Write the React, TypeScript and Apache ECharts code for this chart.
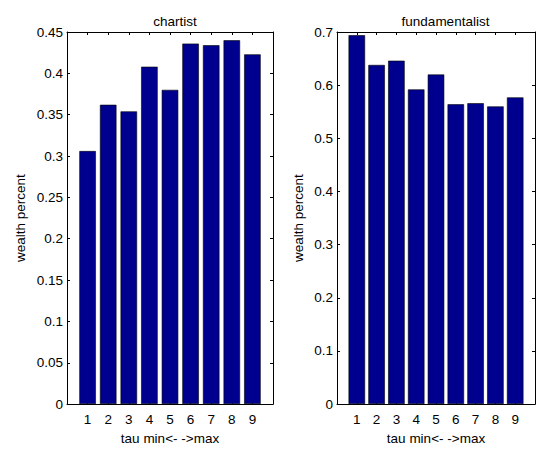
import React, { useEffect, useRef } from "react";
import * as echarts from "echarts";

const taus = [1, 2, 3, 4, 5, 6, 7, 8, 9];
const chartist = [0.306, 0.362, 0.354, 0.408, 0.38, 0.436, 0.434, 0.44, 0.423];
const fundamentalist = [0.694, 0.638, 0.646, 0.592, 0.62, 0.564, 0.566, 0.56, 0.577];
const titles = ["chartist", "fundamentalist"];
const yMax = [0.45, 0.7];
const yStep = [0.05, 0.1];
const xName = "tau min<- ->max";
const yName = "wealth percent";

const FONT = "'Liberation Sans', Arial, sans-serif";
const FS = 13.5;
const BAR = "#00008f";

export default function App() {
  const ref = useRef<HTMLDivElement>(null);
  useEffect(() => {
    document.body.style.margin = "0";
    const chart = echarts.init(ref.current!, null, { renderer: "svg" });
    const grids = [
      { left: 67, top: 32, width: 206, height: 376 },
      { left: 337, top: 32, width: 207, height: 376 },
    ];
    const yNameGap = [40, 32];
    const xAxes: any[] = [];
    const yAxes: any[] = [];
    const series: any[] = [];
    const dataSets = [chartist, fundamentalist];
    grids.forEach((_, i) => {
      const base = {
        gridIndex: i,
        type: "value",
        min: 0,
        max: 10,
        interval: 1,
        splitLine: { show: false },
        axisLine: { show: true, onZero: false, lineStyle: { color: "#000", width: 1 } },
        axisTick: { show: true, inside: true, length: 3, lineStyle: { color: "#000" } },
      };
      xAxes.push({
        ...base,
        position: "bottom",
        name: xName,
        nameLocation: "middle",
        nameGap: 23,
        nameTextStyle: { fontFamily: FONT, fontSize: FS, color: "#000" },
        axisLabel: {
          fontFamily: FONT,
          fontSize: FS,
          color: "#000",
          margin: 8,
          formatter: (v: number) => (v >= 1 && v <= 9 ? String(v) : ""),
        },
      });
      xAxes.push({ ...base, position: "top", axisLabel: { show: false } });
      const ybase = {
        gridIndex: i,
        type: "value",
        min: 0,
        max: yMax[i],
        interval: yStep[i],
        splitLine: { show: false },
        axisLine: { show: true, onZero: false, lineStyle: { color: "#000", width: 1 } },
        axisTick: { show: true, inside: true, length: 3, lineStyle: { color: "#000" } },
      };
      yAxes.push({
        ...ybase,
        position: "left",
        name: yName,
        nameLocation: "middle",
        nameGap: yNameGap[i],
        nameTextStyle: { fontFamily: FONT, fontSize: FS, color: "#000" },
        axisLabel: {
          fontFamily: FONT,
          fontSize: FS,
          color: "#000",
          margin: 4,
          formatter: (v: number) => String(parseFloat(v.toFixed(2))),
        },
      });
      yAxes.push({ ...ybase, position: "right", axisLabel: { show: false } });
      series.push({
        type: "bar",
        xAxisIndex: i * 2,
        yAxisIndex: i * 2,
        barWidth: 16.5,
        itemStyle: { color: BAR, borderColor: "#000", borderWidth: 0.6 },
        data: taus.map((t, k) => [t, dataSets[i][k]]),
      });
    });
    chart.setOption({
      animation: false,
      backgroundColor: "#fff",
      title: titles.map((t, i) => ({
        text: t,
        left: grids[i].left + grids[i].width / 2,
        top: 9,
        textAlign: "center",
        textStyle: { fontFamily: FONT, fontSize: FS, fontWeight: "normal", color: "#000" },
      })),
      grid: grids,
      xAxis: xAxes,
      yAxis: yAxes,
      series,
    });
    return () => chart.dispose();
  }, []);
  return <div ref={ref} style={{ width: 538, height: 450 }} />;
}
